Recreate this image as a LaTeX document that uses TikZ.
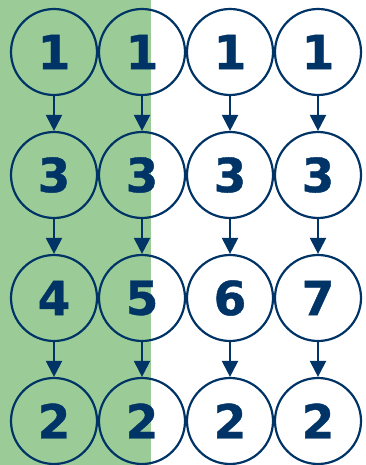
\documentclass[tikz,border=0pt]{standalone}
\usepackage{fontspec}
\setmainfont{DejaVu Sans}[BoldFont=DejaVu Sans Bold,BoldFeatures={FakeBold=0.8}]
\usetikzlibrary{arrows.meta}
\definecolor{navy}{RGB}{0,51,102}
\definecolor{lgreen}{RGB}{155,204,152}
\begin{document}
\begin{tikzpicture}[x=1pt,y=-1pt,
  numnode/.style={circle,draw=navy,line width=2.2pt,minimum size=86pt,inner sep=0pt,
    text=navy,font=\fontsize{47}{47}\selectfont\bfseries},
  conn/.style={draw=navy,line width=2.2pt,-{Triangle[width=16pt,length=16pt]}}]
\useasboundingbox (0,0) rectangle (366,465);
\fill[lgreen] (0,0) rectangle (151,465);
\foreach \c/\x in {1/54,2/142,3/230,4/318}{
  \node[numnode] (n1\c) at (\x,52) {1};
  \node[numnode] (n2\c) at (\x,175) {3};
  \node[numnode] (n4\c) at (\x,421) {2};
}
\node[numnode] (n31) at (54,298) {4};
\node[numnode] (n32) at (142,298) {5};
\node[numnode] (n33) at (230,298) {6};
\node[numnode] (n34) at (318,298) {7};
\foreach \c in {1,2,3,4}{
  \draw[conn] (n1\c) -- (n2\c);
  \draw[conn] (n2\c) -- (n3\c);
  \draw[conn] (n3\c) -- (n4\c);
}
\end{tikzpicture}
\end{document}
